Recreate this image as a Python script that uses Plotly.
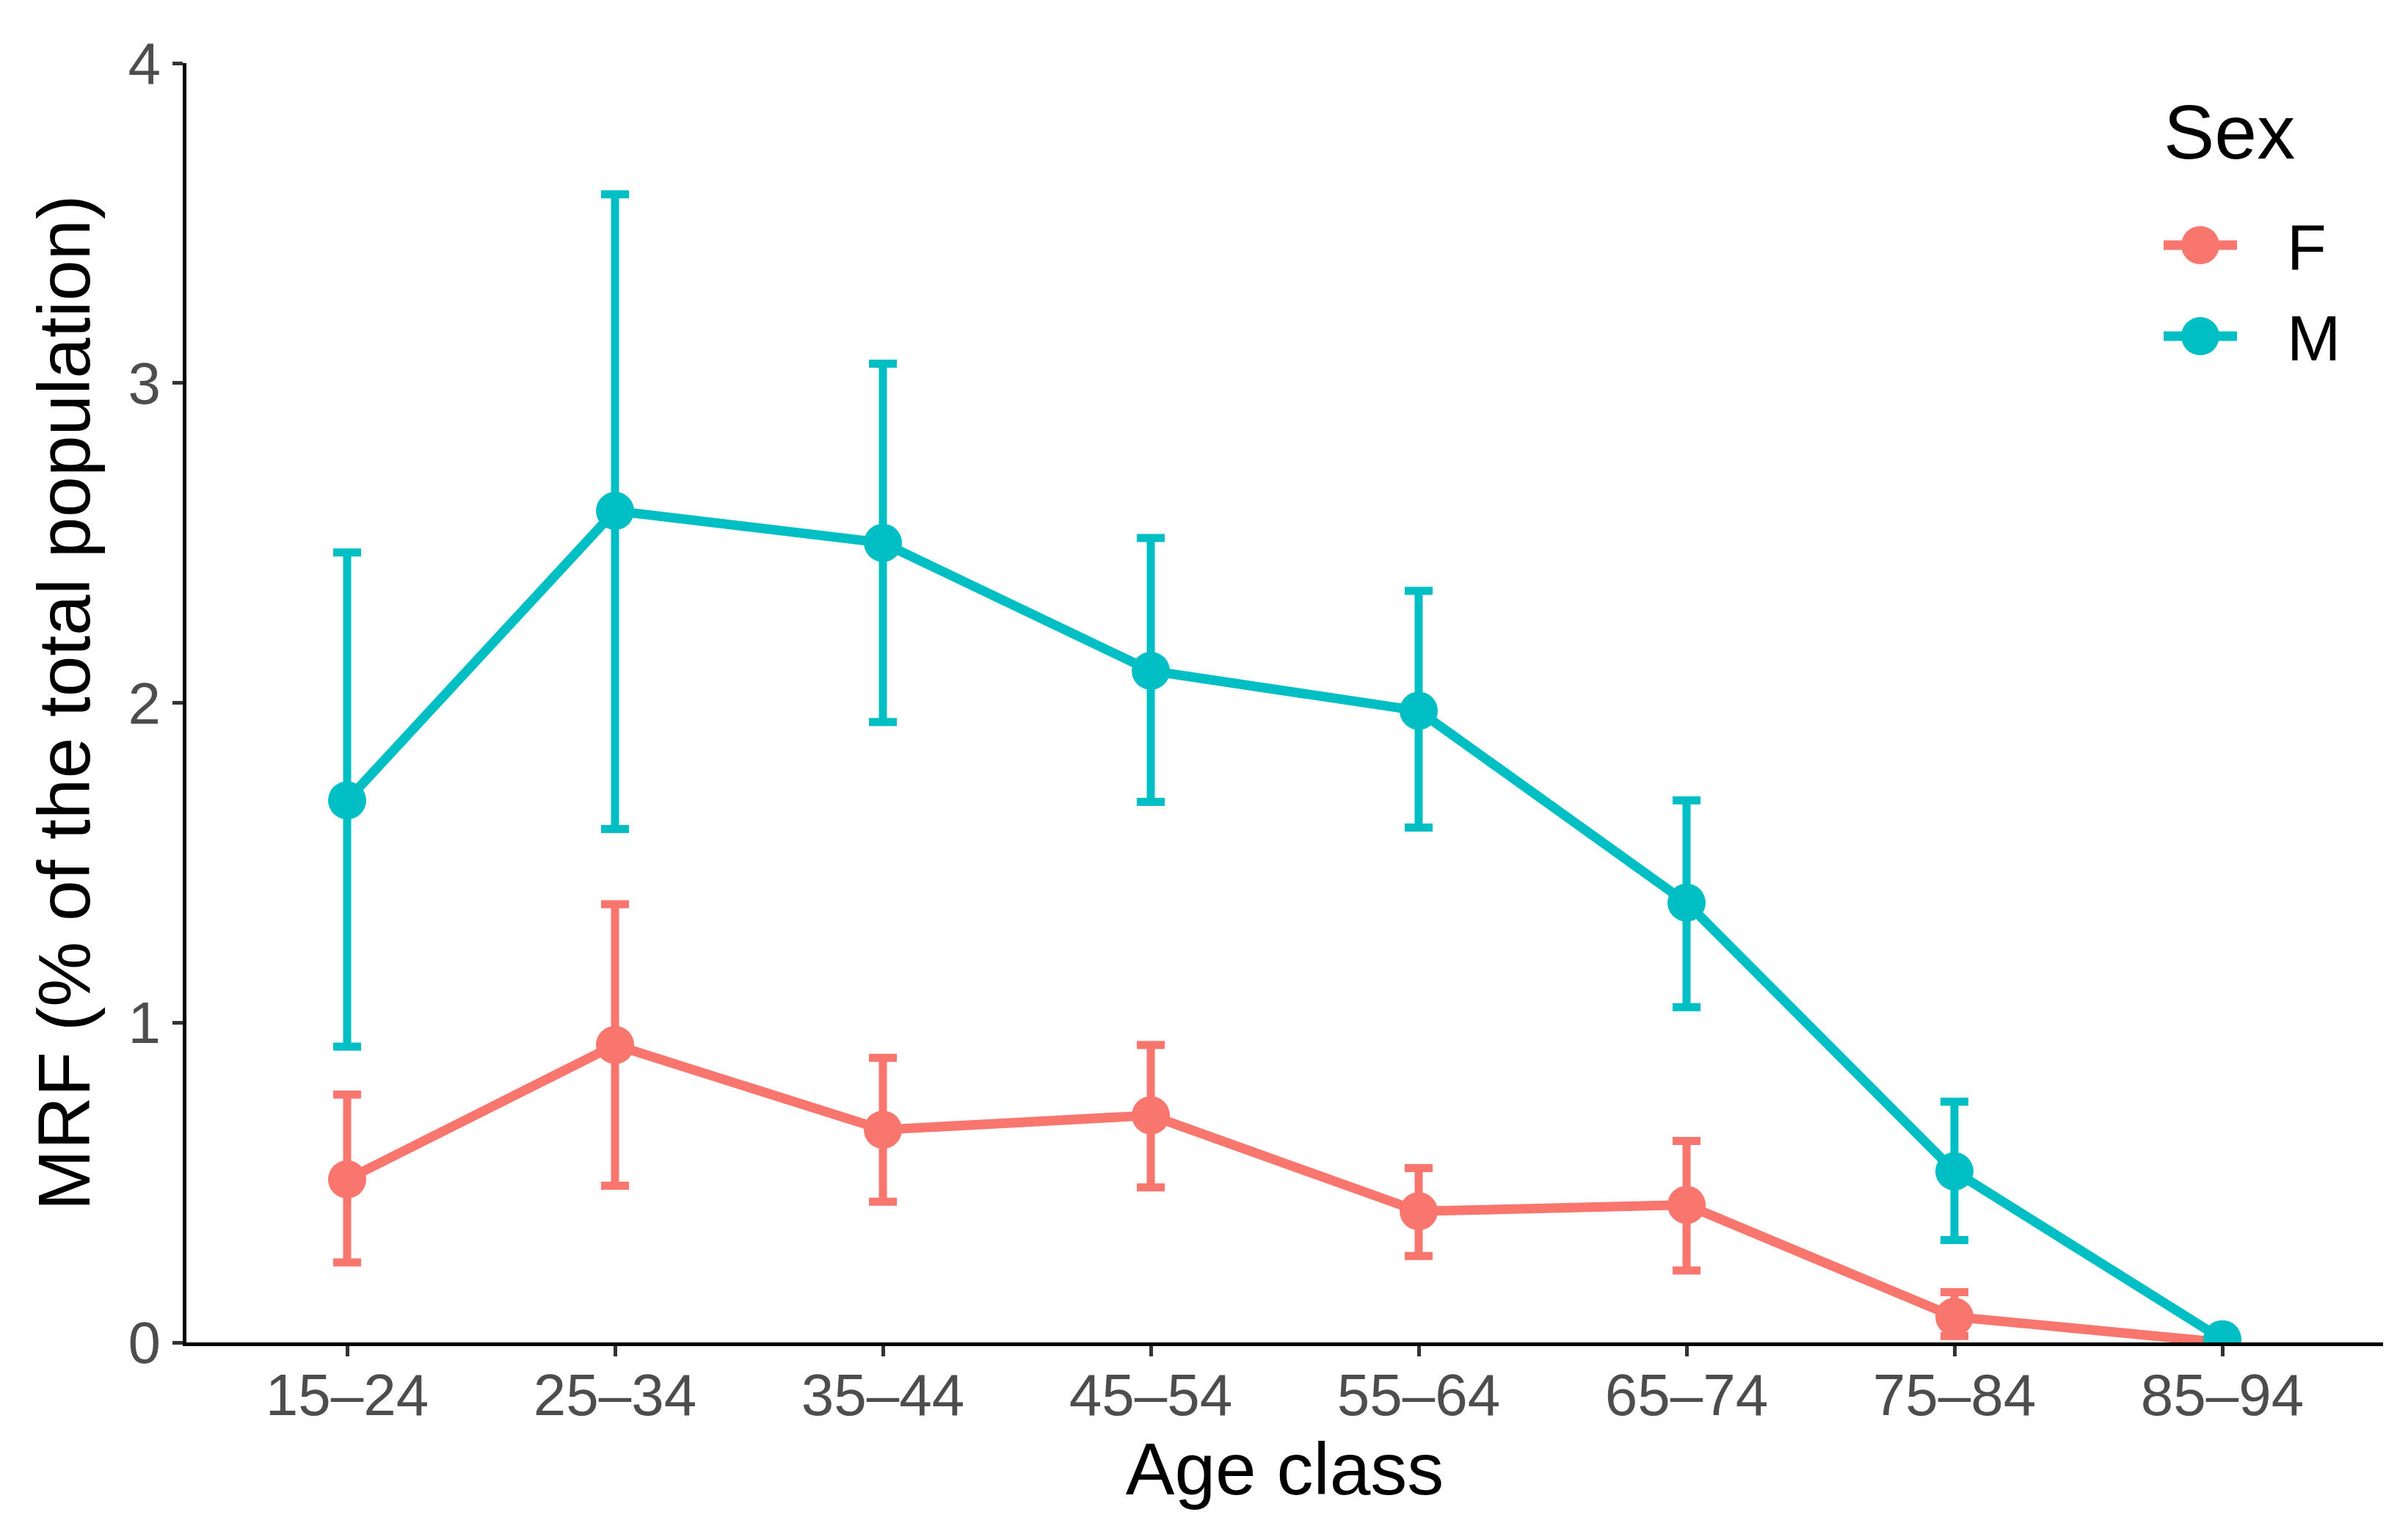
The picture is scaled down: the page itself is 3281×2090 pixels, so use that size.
import plotly.graph_objects as go

age_classes = ["15–24", "25–34", "35–44", "45–54", "55–64", "65–74", "75–84", "85–94"]

f_mean = [0.51, 0.93, 0.665, 0.71, 0.41, 0.43, 0.08, 0.0]
f_upper = [0.775, 1.37, 0.89, 0.93, 0.545, 0.63, 0.157, None]
f_lower = [0.25, 0.49, 0.44, 0.485, 0.27, 0.225, 0.02, None]

m_mean = [1.695, 2.6, 2.5, 2.1, 1.975, 1.375, 0.535, 0.01]
m_upper = [2.47, 3.59, 3.06, 2.515, 2.35, 1.695, 0.753, None]
m_lower = [0.925, 1.605, 1.94, 1.69, 1.61, 1.048, 0.32, None]

y_ticks = [0, 1, 2, 3, 4]
legend_title = "Sex"
legend_labels = ["F", "M"]

COL_F = "#F8766D"
COL_M = "#00BFC4"
FONT = "Liberation Sans, Arial, sans-serif"

W, H = 3281, 2090
ML, MR, MT, MB = 246, 42, 78, 269
LINE_W = 13
MARKER = 52


def err(mean, hi, lo):
    plus = [None if h is None else h - m for m, h in zip(mean, hi)]
    minus = [None if l is None else m - l for m, l in zip(mean, lo)]
    return plus, minus


fig = go.Figure()
series = [("F", f_mean, f_upper, f_lower, COL_F),
          ("M", m_mean, m_upper, m_lower, COL_M)]
for name, mean, hi, lo, col in series:
    plus, minus = err(mean, hi, lo)
    fig.add_trace(go.Scatter(
        x=age_classes, y=mean, name=name, mode="lines+markers",
        showlegend=False,
        line=dict(color=col, width=LINE_W),
        marker=dict(color=col, size=MARKER),
        error_y=dict(type="data", symmetric=False, array=plus, arrayminus=minus,
                     color=col, thickness=11, width=19),
    ))

# ---- legend drawn in paper space (ggplot-like large keys) ----
pw = W - ML - MR
ph = H - MT - MB


def px_x(x):
    return (x - ML) / pw


def px_y(y):
    return (H - MB - y) / ph


shapes = []
annotations = []
key_cx = px_x(2990)
key_ys = [px_y(326), px_y(450)]
for (name, _, _, _, col), ky in zip(series, key_ys):
    shapes.append(dict(type="line", xref="paper", yref="paper",
                       xsizemode="pixel", ysizemode="pixel",
                       xanchor=key_cx, yanchor=ky, x0=-50, x1=50, y0=0, y1=0,
                       line=dict(color=col, width=LINE_W)))
    shapes.append(dict(type="circle", xref="paper", yref="paper",
                       xsizemode="pixel", ysizemode="pixel",
                       xanchor=key_cx, yanchor=ky, x0=-MARKER / 2, x1=MARKER / 2,
                       y0=-MARKER / 2, y1=MARKER / 2,
                       fillcolor=col, line=dict(width=0)))
    annotations.append(dict(text=name, xref="paper", yref="paper",
                            x=px_x(3106), y=ky, xanchor="left", yanchor="middle",
                            showarrow=False, yshift=-3,
                            font=dict(size=88, family=FONT, color="black")))
annotations.append(dict(text=legend_title, xref="paper", yref="paper",
                        x=px_x(2938), y=px_y(168), xanchor="left", yanchor="middle",
                        showarrow=False, yshift=-4,
                        font=dict(size=104, family=FONT, color="black")))

fig.update_layout(
    width=W, height=H,
    margin=dict(l=ML, r=MR, t=MT, b=MB),
    paper_bgcolor="white", plot_bgcolor="white",
    font=dict(family=FONT, color="black"),
    showlegend=False,
    shapes=shapes,
    annotations=annotations,
    xaxis=dict(
        type="category", categoryorder="array", categoryarray=age_classes,
        range=[-0.6, 7.6],
        showline=True, linecolor="black", linewidth=5, mirror=False,
        ticks="outside", ticklen=14, tickwidth=5, tickcolor="#333333",
        ticklabelstandoff=-16,
        tickfont=dict(size=80, family=FONT, color="#4D4D4D"),
        showgrid=False, zeroline=False,
        title=dict(text="Age class", font=dict(size=100, family=FONT, color="black"), standoff=16),
    ),
    yaxis=dict(
        range=[0, 4], tickvals=y_ticks, ticktext=[str(v) for v in y_ticks],
        showline=True, linecolor="black", linewidth=5,
        ticks="outside", ticklen=14, tickwidth=5, tickcolor="#333333",
        tickfont=dict(size=80, family=FONT, color="#4D4D4D"),
        showgrid=False, zeroline=False,
        title=dict(text="MRF (% of the total population)", font=dict(size=100, family=FONT, color="black"), standoff=20),
    ),
)

fig.write_html("out.html")
